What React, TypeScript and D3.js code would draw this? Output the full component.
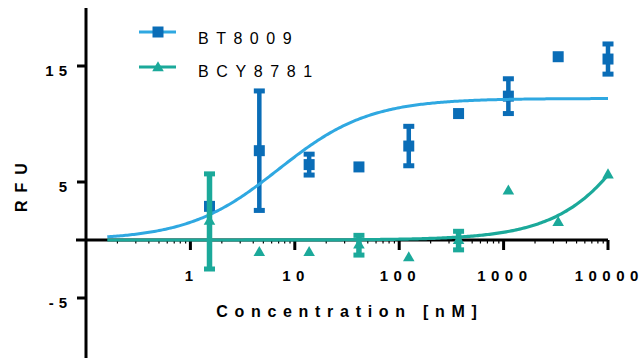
import React from "react";
import * as d3 from "d3";

const concentrations = [1.524, 4.572, 13.72, 41.15, 123.5, 370.4, 1111, 3333, 10000];
const bt8009Mean = [2.9, 7.7, 6.5, 6.3, 8.1, 10.9, 12.4, 15.8, 15.6];
const bt8009Err = [0, 5.15, 0.9, 0, 1.7, 0, 1.5, 0, 1.3];
const bcy8781Mean = [1.6, -1.1, -1.1, -0.45, -1.55, -0.05, 4.2, 1.5, 5.6];
const bcy8781Err = [4.1, 0, 0, 0.85, 0, 0.8, 0, 0, 0];
const xTicks = [1, 10, 100, 1000, 10000];
const xTickLabels = ["1", "10", "100", "1000", "10000"];
const yTicks = [15, 5, -5];
const seriesNames = ["BT8009", "BCY8781"];
// 4PL fit parameters [bottom, top, EC50, hill]
const bt8009Fit = [0, 12.2, 7, 1];
const bcy8781Fit = [0, 32, 47000, 1];

const W = 641;
const H = 358;
const FONT = "'Liberation Sans', Arial, sans-serif";
const BLUE_M = "#0a6db7";
const BLUE_L = "#2fa8e1";
const TEAL = "#1ba99a";

const x = d3.scaleLog().domain([0.1, 10000]).range([86, 608]);
const y = d3.scaleLinear().domain([-10, 20]).range([356, 8]);

function hill(p: number[], c: number) {
  const [b, t, e, h] = p;
  return b + (t - b) / (1 + Math.pow(e / c, h));
}

function curvePath(p: number[]) {
  const pts: [number, number][] = [];
  const lo = Math.log10(0.16);
  const hi = Math.log10(10000);
  for (let i = 0; i <= 300; i++) {
    const c = Math.pow(10, lo + ((hi - lo) * i) / 300);
    pts.push([x(c), y(hill(p, c))]);
  }
  return d3.line()(pts) || "";
}

const sq = d3.symbol().type(d3.symbolSquare).size(121)() || "";
const tri = d3.symbol().type(d3.symbolTriangle).size(58)() || "";

function minorTicks() {
  const out: number[] = [];
  for (let d = 0.1; d < 10000; d *= 10) {
    for (let k = 2; k <= 9; k++) out.push(d * k);
  }
  return out;
}

function Spaced({ s, ls }: { s: string; ls: number }) {
  const head = s.slice(0, -1);
  const tail = s.slice(-1);
  return (
    <>
      {head && <tspan letterSpacing={ls}>{head}</tspan>}
      <tspan letterSpacing={0}>{tail}</tspan>
    </>
  );
}

function ErrBar({ cx, m, e, color, w }: { cx: number; m: number; e: number; color: string; w: number }) {
  if (!e) return null;
  const y1 = y(m + e);
  const y2 = y(m - e);
  return (
    <g fill={color}>
      <rect x={cx - w / 2} y={y1} width={w} height={y2 - y1} />
      <rect x={cx - 5.5} y={y1 - 2.5} width={11} height={5} />
      <rect x={cx - 5.5} y={y2 - 2.5} width={11} height={5} />
    </g>
  );
}

export default function App() {
  return (
    <svg width={W} height={H} style={{ position: "absolute", left: 0, top: 0, background: "#fff" }}>
      {/* axes */}
      <line x1={86} x2={86} y1={8} y2={358} stroke="#000" strokeWidth={3} />
      <line x1={76} x2={x(10000)} y1={y(0)} y2={y(0)} stroke="#000" strokeWidth={3} />
      {yTicks.map((t) => (
        <g key={t}>
          <line x1={77} x2={86} y1={y(t)} y2={y(t)} stroke="#000" strokeWidth={3} />
          <text x={67} y={y(t) + 10} textAnchor="end" fontFamily={FONT} fontWeight="bold" fontSize={15}>
            <Spaced s={String(t)} ls={5} />
          </text>
        </g>
      ))}
      {minorTicks().map((t, i) => (
        <line key={i} x1={x(t)} x2={x(t)} y1={y(0)} y2={y(0) + 3.5} stroke="#000" strokeWidth={1.2} />
      ))}
      {xTicks.map((t, i) => (
        <g key={t}>
          <line x1={x(t)} x2={x(t)} y1={y(0)} y2={y(0) + 10} stroke="#000" strokeWidth={3} />
          <text x={x(t) - 1.5} y={281} textAnchor="middle" fontFamily={FONT} fontWeight="bold" fontSize={15}>
            <Spaced s={xTickLabels[i]} ls={5.5} />
          </text>
        </g>
      ))}
      <text x={346.5} y={317} textAnchor="middle" fontFamily={FONT} fontWeight="bold" fontSize={16}>
        <Spaced s="Concentration [nM]" ls={6.7} />
      </text>
      <text transform={`translate(27,187.5) rotate(-90)`} textAnchor="middle" fontFamily={FONT} fontWeight="bold" fontSize={16}>
        <Spaced s="RFU" ls={8} />
      </text>

      {/* BT8009 */}
      {concentrations.map((c, i) => (
        <ErrBar key={"be" + i} cx={x(c)} m={bt8009Mean[i]} e={bt8009Err[i]} color={BLUE_M} w={4.5} />
      ))}
      {concentrations.map((c, i) => (
        <path key={"bm" + i} d={sq} transform={`translate(${x(c)},${y(bt8009Mean[i])})`} fill={BLUE_M} />
      ))}
      <path d={curvePath(bt8009Fit)} fill="none" stroke={BLUE_L} strokeWidth={3} />

      {/* BCY8781 */}
      {concentrations.map((c, i) => (
        <ErrBar key={"te" + i} cx={x(c)} m={bcy8781Mean[i]} e={bcy8781Err[i]} color={TEAL} w={5.5} />
      ))}
      {concentrations.map((c, i) => (
        <path key={"tm" + i} d={tri} transform={`translate(${x(c)},${y(bcy8781Mean[i])})`} fill={TEAL} />
      ))}
      <path d={curvePath(bcy8781Fit)} fill="none" stroke={TEAL} strokeWidth={3.2} />

      {/* legend */}
      <line x1={139} x2={176} y1={32} y2={32} stroke={BLUE_L} strokeWidth={3} />
      <path d={sq} transform="translate(158,32)" fill={BLUE_M} />
      <text x={198} y={44} fontFamily={FONT} fontSize={16}>
        <Spaced s={seriesNames[0]} ls={7.5} />
      </text>
      <line x1={139} x2={176} y1={67} y2={67} stroke={TEAL} strokeWidth={3} />
      <path d={tri} transform="translate(158,68)" fill={TEAL} />
      <text x={198} y={77} fontFamily={FONT} fontSize={16}>
        <Spaced s={seriesNames[1]} ls={7.6} />
      </text>
    </svg>
  );
}
